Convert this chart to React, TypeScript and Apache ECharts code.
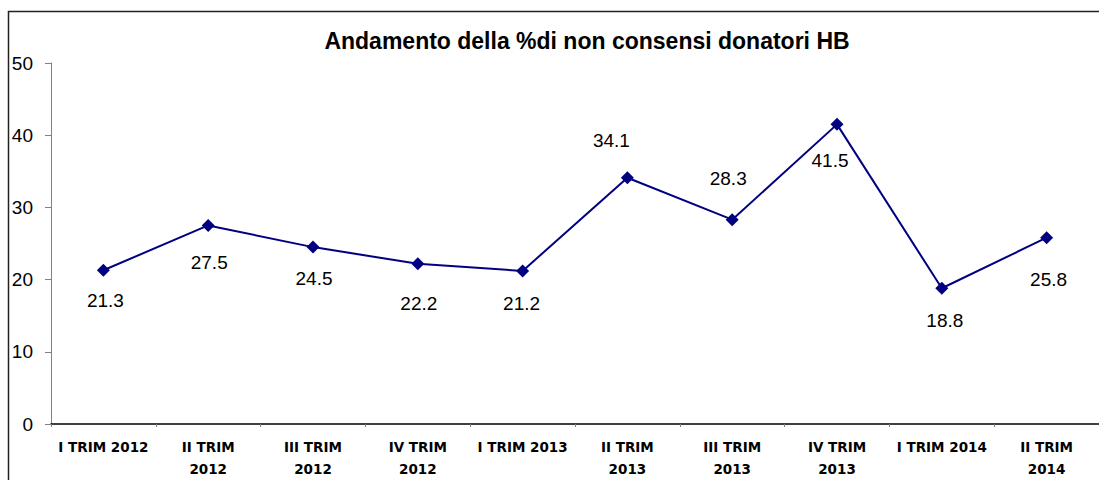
import React, { useEffect, useRef } from "react";
import * as echarts from "echarts";

const titleText = "Andamento della %di non consensi donatori HB";
const categories = [
  "I TRIM 2012",
  "II TRIM 2012",
  "III TRIM 2012",
  "IV TRIM 2012",
  "I TRIM 2013",
  "II TRIM 2013",
  "III TRIM 2013",
  "IV TRIM 2013",
  "I TRIM 2014",
  "II TRIM 2014",
];
const values = [21.3, 27.5, 24.5, 22.2, 21.2, 34.1, 28.3, 41.5, 18.8, 25.8];
const yMin = 0;
const yMax = 50;
const yInterval = 10;

// label placement (layout only)
const labelOffsets: [number, number][] = [
  [2, 30],
  [1, 37],
  [1, 31],
  [1, 40],
  [-1, 33],
  [-16, -37],
  [-4, -41],
  [-7, 36],
  [3, 32],
  [2, 42],
];

export default function App() {
  const ref = useRef<HTMLDivElement>(null);
  useEffect(() => {
    if (!ref.current) return;
    const chart = echarts.init(ref.current, null, { renderer: "svg" });
    const option = {
      animation: false,
      backgroundColor: "#ffffff",
      title: {
        text: titleText,
        left: 582,
        top: 24,
        textAlign: "center",
        textStyle: {
          fontFamily: "Liberation Sans",
          fontWeight: "bold",
          fontSize: 23,
          color: "#000000",
        },
      },
      graphic: [
        {
          type: "rect",
          shape: { x: 8.5, y: 11.5, width: 1120, height: 520 },
          style: { fill: "none", stroke: "#222222", lineWidth: 1.5 },
          z: 10,
        },
      ],
      grid: { left: 51, right: -11, top: 63, bottom: 53, containLabel: false },
      xAxis: {
        type: "category",
        data: categories,
        boundaryGap: true,
        axisLine: { lineStyle: { color: "#000000", width: 1.5 } },
        axisTick: { show: true, length: 3, lineStyle: { color: "#808080" } },
        axisLabel: {
          interval: 0,
          margin: 12,
          fontFamily: "DejaVu Sans",
          fontWeight: "bold",
          fontSize: 13.5,
          lineHeight: 22,
          color: "#000000",
          formatter: (v: string) =>
            v.length > 11 ? v.replace(/ (\d{4})$/, "\n$1") : v,
        },
        splitLine: { show: false },
      },
      yAxis: {
        type: "value",
        min: yMin,
        max: yMax,
        interval: yInterval,
        axisLine: { show: true, lineStyle: { color: "#808080", width: 1 } },
        axisTick: { show: true, length: 6, lineStyle: { color: "#808080" } },
        axisLabel: {
          margin: 18,
          fontFamily: "Liberation Sans",
          fontSize: 19,
          color: "#000000",
        },
        splitLine: { show: false },
      },
      series: [
        {
          type: "line",
          data: values.map((v, i) => ({
            value: v,
            label: { offset: labelOffsets[i] },
          })),
          symbol: "diamond",
          symbolSize: [13, 13],
          lineStyle: { color: "#000080", width: 2 },
          itemStyle: { color: "#000080" },
          label: {
            show: true,
            position: "inside",
            fontFamily: "Liberation Sans",
            fontSize: 19,
            color: "#000000",
            formatter: (p: any) => p.value.toFixed(1),
          },
        },
      ],
    };
    chart.setOption(option as any);
    return () => chart.dispose();
  }, []);
  return (
    <div
      ref={ref}
      style={{ position: "absolute", left: 0, top: 0, width: 1099, height: 480 }}
    />
  );
}
